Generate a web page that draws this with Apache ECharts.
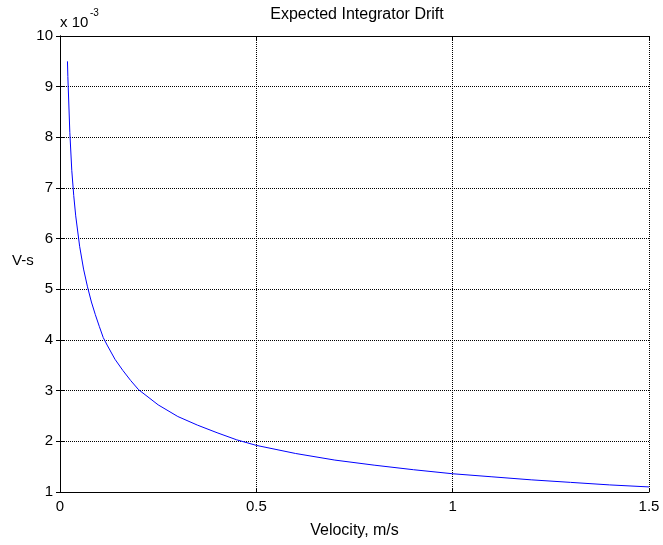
<!DOCTYPE html>
<html><head><meta charset="utf-8">
<script src="https://cdn.jsdelivr.net/npm/echarts@6/dist/echarts.min.js"></script>
<style>html,body{margin:0;padding:0;background:#fff}#c{width:663px;height:545px}</style>
</head><body><div id="c"></div>
<script>
const velocity = [0.019, 0.02, 0.025, 0.03, 0.035, 0.04, 0.05, 0.06, 0.07, 0.08, 0.09, 0.1, 0.11, 0.12, 0.14, 0.16, 0.18, 0.2, 0.25, 0.3, 0.35, 0.4, 0.45, 0.5, 0.6, 0.7, 0.8, 0.9, 1.0, 1.1, 1.2, 1.3, 1.4, 1.5];
const drift = [9.5, 9.2, 8.1, 7.35, 6.85, 6.45, 5.85, 5.4, 5.05, 4.75, 4.5, 4.27, 4.05, 3.9, 3.62, 3.4, 3.2, 3.02, 2.72, 2.49, 2.32, 2.17, 2.03, 1.92, 1.76, 1.63, 1.53, 1.44, 1.36, 1.30, 1.24, 1.19, 1.14, 1.10];
const xTicks = [0, 0.5, 1, 1.5];
const yTicks = [1, 2, 3, 4, 5, 6, 7, 8, 9, 10];
const titleText = 'Expected Integrator Drift';
const xName = 'Velocity, m/s';
const yName = 'V-s';

const font = 'Liberation Sans, Arial, sans-serif';
const chart = echarts.init(document.getElementById('c'), null, {renderer: 'canvas'});
const grid = {left: 60, right: 14, top: 36, bottom: 53, containLabel: false};
const gridLine = {show: true, lineStyle: {color: '#000', type: [1, 1], width: 1}};
const axisLineStyle = {show: true, lineStyle: {color: '#000', width: 1}};
chart.setOption({
  animation: false,
  title: {text: titleText, left: 352, top: 2, textAlign: 'center',
    textStyle: {fontFamily: font, fontSize: 16, fontWeight: 'normal', color: '#000'}},
  grid: grid,
  xAxis: [{
    type: 'value', min: xTicks[0], max: xTicks[xTicks.length - 1], interval: 0.5,
    name: xName, nameLocation: 'middle', nameGap: 31,
    nameTextStyle: {fontFamily: font, fontSize: 16, color: '#000'},
    axisLine: axisLineStyle,
    axisTick: {show: true, inside: true, length: 4, lineStyle: {color: '#000'}},
    axisLabel: {fontFamily: font, fontSize: 15, color: '#000', margin: 7,
      formatter: v => String(v)},
    splitLine: gridLine
  }, {
    type: 'value', position: 'top', min: xTicks[0], max: xTicks[xTicks.length - 1], interval: 0.5,
    axisLine: axisLineStyle,
    axisTick: {show: true, inside: true, length: 4, lineStyle: {color: '#000'}},
    axisLabel: {show: false}, splitLine: {show: false}
  }],
  yAxis: [{
    type: 'value', min: yTicks[0], max: yTicks[yTicks.length - 1], interval: 1,
    axisLine: axisLineStyle,
    axisTick: {show: true, inside: true, length: 4, lineStyle: {color: '#000'}},
    axisLabel: {fontFamily: font, fontSize: 15, color: '#000', margin: 7},
    splitLine: gridLine
  }, {
    type: 'value', position: 'right', min: yTicks[0], max: yTicks[yTicks.length - 1], interval: 1,
    axisLine: axisLineStyle,
    axisTick: {show: true, inside: true, length: 4, lineStyle: {color: '#000'}},
    axisLabel: {show: false}, splitLine: {show: false}
  }],
  graphic: [
    {type: 'text', left: 12, top: 253, style: {text: yName, font: '15px ' + font, fill: '#000'}},
    {type: 'text', left: 60, top: 15, style: {text: 'x 10', font: '15px ' + font, fill: '#000'}},
    {type: 'text', left: 90, top: 8, style: {text: '-3', font: '10px ' + font, fill: '#000'}}
  ],
  series: [{
    type: 'line', xAxisIndex: 0, yAxisIndex: 0, showSymbol: false, smooth: false,
    data: velocity.map((v, i) => [v, drift[i]]),
    lineStyle: {color: '#0000ff', width: 1}
  }]
});
</script></body></html>
